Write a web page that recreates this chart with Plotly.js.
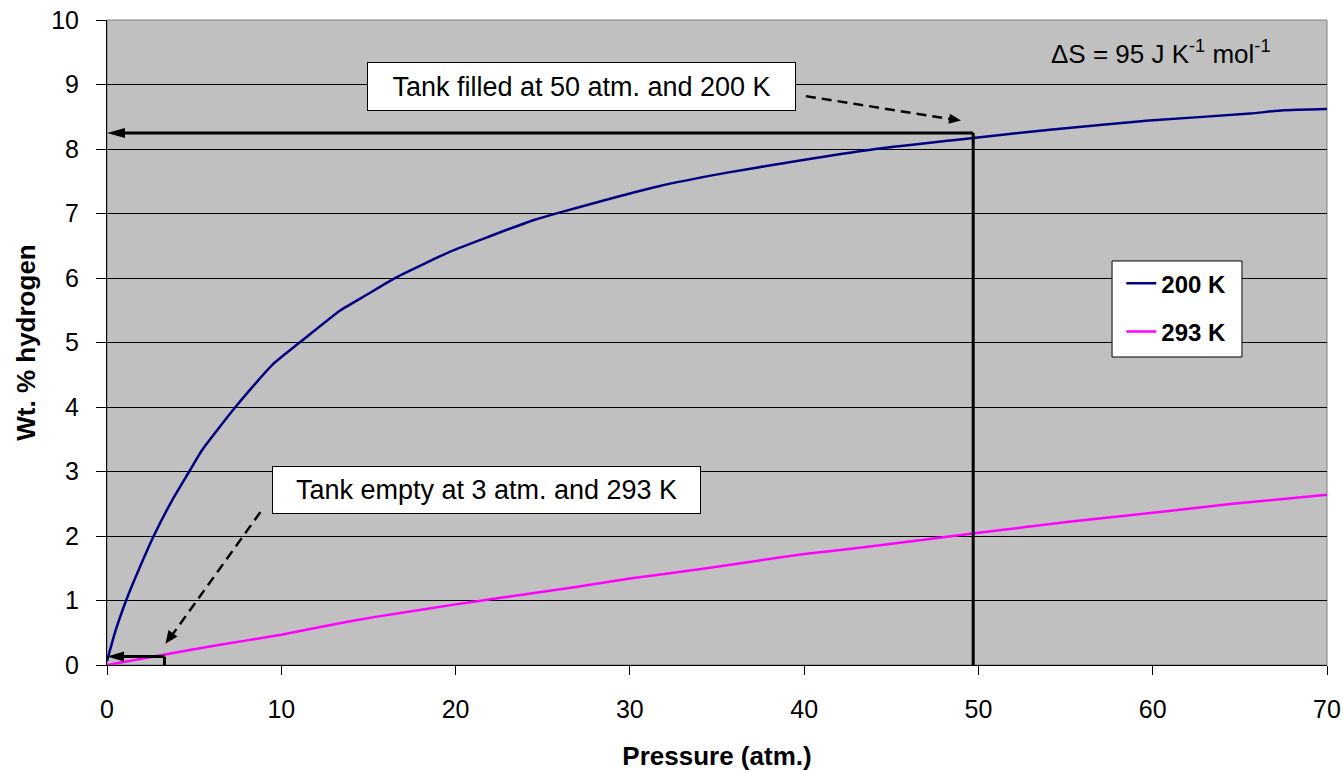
<!DOCTYPE html>
<html>
<head>
<meta charset="utf-8">
<script src="https://cdn.plot.ly/plotly-3.0.1.min.js"></script>
<style>
  html, body { margin: 0; padding: 0; background: #fff; }
  #chart { width: 1343px; height: 771px; }
</style>
</head>
<body>
<div id="chart"></div>
<script>
// ---- Data ----
const pressure200 = [0, 0.5, 1.24, 1.81, 2.68, 3.73, 4.72, 5.45, 7.37, 9.47, 11.38, 13.4, 14.9, 16.6, 19.7, 21.9, 24.5, 25.9, 31.6, 35.5, 38.8, 44.1, 49.7, 54.1, 59.8, 65.6, 67.5, 70];
const wt200       = [0.06, 0.54, 1.1, 1.47, 2.0, 2.55, 3.0, 3.33, 4.0, 4.65, 5.07, 5.5, 5.74, 6.01, 6.41, 6.64, 6.9, 7.01, 7.42, 7.63, 7.78, 8.0, 8.17, 8.3, 8.44, 8.55, 8.6, 8.62];

const pressure293 = [0, 3.25, 6.4, 10, 13.2, 15.5, 20, 22.3, 26.9, 30, 34.1, 40, 43.9, 50, 55.2, 60, 64.6, 70];
const wt293       = [0, 0.16, 0.31, 0.47, 0.64, 0.75, 0.94, 1.03, 1.21, 1.34, 1.49, 1.72, 1.84, 2.05, 2.22, 2.36, 2.5, 2.64];

const seriesNames = ['200 K', '293 K'];
const xTickVals = [0, 10, 20, 30, 40, 50, 60, 70];
const yTickVals = [0, 1, 2, 3, 4, 5, 6, 7, 8, 9, 10];

// Annotation reference points (data units)
const filledP = 49.7, filledW = 8.25;   // tank filled marker
const emptyP = 3.3, emptyW = 0.13;      // tank empty marker

const FONT = 'Arial, "Liberation Sans", sans-serif';

// arrowhead as a pixel-sized path anchored at a data point.
// dir = direction of travel in screen pixels (x right, y down)
function arrowHead(xa, ya, dx, dy, len, halfw) {
  const n = Math.hypot(dx, dy); dx /= n; dy /= n;
  const ux = dx, uy = -dy;              // y-up pixel coords
  const bx = -ux * len, by = -uy * len;
  const px = -uy * halfw, py = ux * halfw;
  const p1 = [bx + px, by + py], p2 = [bx - px, by - py];
  return {
    type: 'path', xref: 'x', yref: 'y',
    xsizemode: 'pixel', ysizemode: 'pixel', xanchor: xa, yanchor: ya,
    path: `M0,0 L${p1[0].toFixed(2)},${p1[1].toFixed(2)} L${p2[0].toFixed(2)},${p2[1].toFixed(2)} Z`,
    fillcolor: '#000', line: { color: '#000', width: 0 }
  };
}

const traces = [
  { x: pressure200, y: wt200, name: seriesNames[0], mode: 'lines', legendgroup: 'a',
    line: { color: '#000080', width: 2.5, shape: 'spline', smoothing: 0.5 } },
  { x: pressure293, y: wt293, name: seriesNames[1], mode: 'lines', legendgroup: 'b',
    line: { color: '#FF00FF', width: 2.5, shape: 'spline', smoothing: 0.5 } }
];

const shapes = [
  // plot frame (gray)
  { type: 'rect', xref: 'paper', yref: 'paper', x0: 0, x1: 1, y0: 0, y1: 1,
    line: { color: '#808080', width: 1 }, layer: 'below' },
  // legend box
  { type: 'rect', xref: 'paper', yref: 'paper', x0: 0.8238, x1: 0.9303, y0: 0.4775, y1: 0.6264,
    fillcolor: '#fff', line: { color: '#000', width: 1 }, layer: 'above' },
  // Tank filled: vertical and horizontal solid lines
  { type: 'line', xref: 'x', yref: 'y', x0: filledP, x1: filledP, y0: -0.04, y1: filledW,
    line: { color: '#000', width: 3 } },
  { type: 'line', xref: 'x', yref: 'y', x0: filledP, x1: 0.6, y0: filledW, y1: filledW,
    line: { color: '#000', width: 3 } },
  arrowHead(0, filledW, -1, 0, 18, 5),
  // Tank empty: small bracket
  { type: 'line', xref: 'x', yref: 'y', x0: emptyP, x1: emptyP, y0: -0.04, y1: emptyW,
    line: { color: '#000', width: 3 } },
  { type: 'line', xref: 'x', yref: 'y', x0: emptyP, x1: 0.6, y0: emptyW, y1: emptyW,
    line: { color: '#000', width: 3 } },
  arrowHead(0, emptyW, -1, 0, 17, 5),
  // dashed pointer from "Tank filled" box
  { type: 'line', xref: 'x', yref: 'y', x0: 40.1, y0: 8.82, x1: 48.5, y1: 8.46,
    line: { color: '#000', width: 2.5, dash: '10px,6px' } },
  arrowHead(49.0, 8.44, 155.2, 24, 12, 5),
  // dashed pointer from "Tank empty" box
  { type: 'line', xref: 'x', yref: 'y', x0: 8.8, y0: 2.37, x1: 3.7, y1: 0.45,
    line: { color: '#000', width: 2.5, dash: '10px,6px' } },
  arrowHead(3.35, 0.33, -94.8, 131.6, 13, 5.5)
];

const annotations = [
  { xref: 'x', yref: 'y', x: 27.2, y: 8.975, text: 'Tank filled at 50 atm. and 200 K',
    showarrow: false, bgcolor: '#fff', bordercolor: '#000', borderwidth: 1, borderpad: 0,
    width: 427, height: 47, font: { family: FONT, size: 27, color: '#000' } },
  { xref: 'x', yref: 'y', x: 21.75, y: 2.71, text: 'Tank empty at 3 atm. and 293 K',
    showarrow: false, bgcolor: '#fff', bordercolor: '#000', borderwidth: 1, borderpad: 0,
    width: 427, height: 46, font: { family: FONT, size: 27, color: '#000' } },
  { xref: 'x', yref: 'y', x: 60.5, y: 9.5, text: 'ΔS = 95 J K<sup>-1</sup> mol<sup>-1</sup>',
    showarrow: false, font: { family: FONT, size: 26, color: '#000' } }
];

const layout = {
  width: 1343, height: 771,
  paper_bgcolor: '#ffffff', plot_bgcolor: '#C0C0C0',
  margin: { l: 107, r: 16, t: 20, b: 106 },
  font: { family: FONT, color: '#000' },
  showlegend: true,
  legend: {
    x: 0.8314, y: 0.626, xanchor: 'left', yanchor: 'top',
    bgcolor: 'rgba(0,0,0,0)', borderwidth: 0,
    font: { family: FONT, size: 24, color: '#000', weight: 'bold' },
    itemwidth: 30, traceorder: 'grouped', tracegroupgap: 14
  },
  xaxis: {
    range: [0, 70], tickvals: xTickVals, ticks: 'outside', ticklen: 9, tickcolor: '#000', tickwidth: 1,
    showgrid: false, zeroline: false, showline: true, linecolor: '#000', linewidth: 1,
    tickfont: { family: FONT, size: 25, color: '#000' }, ticklabelstandoff: 13,
    title: { text: '<b>Pressure (atm.)</b>', font: { family: FONT, size: 26, color: '#000' }, standoff: 26 },
    automargin: false, fixedrange: true
  },
  yaxis: {
    range: [0, 10], tickvals: yTickVals, ticks: 'outside', ticklen: 10, tickcolor: '#000', tickwidth: 1,
    showgrid: true, gridcolor: '#000', gridwidth: 1, zeroline: false,
    showline: true, linecolor: '#000', linewidth: 1,
    tickfont: { family: FONT, size: 25, color: '#000' }, ticklabelstandoff: 12,
    title: { text: '<b>Wt. % hydrogen</b>', font: { family: FONT, size: 26, color: '#000' }, standoff: 8 },
    automargin: false, fixedrange: true
  },
  shapes: shapes,
  annotations: annotations
};

Plotly.newPlot('chart', traces, layout, { displayModeBar: false, staticPlot: true });
</script>
</body>
</html>
